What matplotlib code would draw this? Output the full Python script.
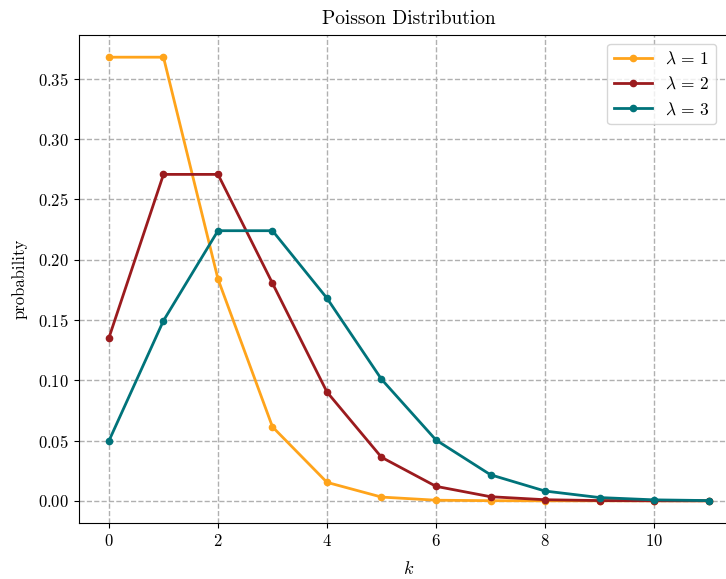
import matplotlib
matplotlib.use("Agg")
import matplotlib.pyplot as plt

plt.rcParams['font.family'] = 'serif'
plt.rcParams['font.serif'] = ['cmr10']
plt.rcParams['mathtext.fontset'] = 'cm'
plt.rcParams['axes.formatter.use_mathtext'] = True
plt.rcParams['axes.unicode_minus'] = False

k = list(range(12))
p1 = [0.3679, 0.3679, 0.1839, 0.0613, 0.0153, 0.0031, 0.0005, 0.0001, 0.0000, 0.0000, 0.0000, 0.0000]
p2 = [0.1353, 0.2707, 0.2707, 0.1804, 0.0902, 0.0361, 0.0120, 0.0034, 0.0009, 0.0002, 0.00004, 0.00001]
p3 = [0.0498, 0.1494, 0.2240, 0.2240, 0.1680, 0.1008, 0.0504, 0.0216, 0.0081, 0.0027, 0.0008, 0.0002]
labels = [r'$\lambda\,=\,1$', r'$\lambda\,=\,2$', r'$\lambda\,=\,3$']
colors = ['#FFA41B', '#9B1B1E', '#00737A']

W, H = 726, 579
fig = plt.figure(figsize=(W/100, H/100), dpi=100)
left, right, top, bottom = 79, 738.5, 35, 523
ax = fig.add_axes([left/W, (H-bottom)/H, (right-left)/W, (bottom-top)/H])

for p, lab, c in zip([p1, p2, p3], labels, colors):
    ax.plot(k, p, '-o', color=c, lw=2, ms=4.5, label=lab)

ax.set_xlim(-0.55, 11.55)
ax.set_ylim(-0.0184, 0.3863)
ax.set_xticks([0, 2, 4, 6, 8, 10])
ax.set_yticks([0, 0.05, 0.10, 0.15, 0.20, 0.25, 0.30, 0.35])
ax.set_yticklabels(['$0.00$', '$0.05$', '$0.10$', '$0.15$', '$0.20$', '$0.25$', '$0.30$', '$0.35$'])
ax.set_xticklabels(['$0$', '$2$', '$4$', '$6$', '$8$', '$10$'])
ax.tick_params(labelsize=12)
ax.grid(True, ls='--', color='#b0b0b0', lw=1)
ax.set_axisbelow(True)
ax.set_xlabel('$k$', fontsize=13, labelpad=8)
ax.set_ylabel('probability', fontsize=12, labelpad=8)
ax.set_title('Poisson Distribution', fontsize=14, pad=8)
leg = ax.legend(loc='upper right', bbox_to_anchor=((725-left)/(right-left), 1.0),
                fontsize=12.5, handlelength=2.2, handletextpad=0.7, borderaxespad=0.5)

fig.savefig('out.png', dpi=100)
